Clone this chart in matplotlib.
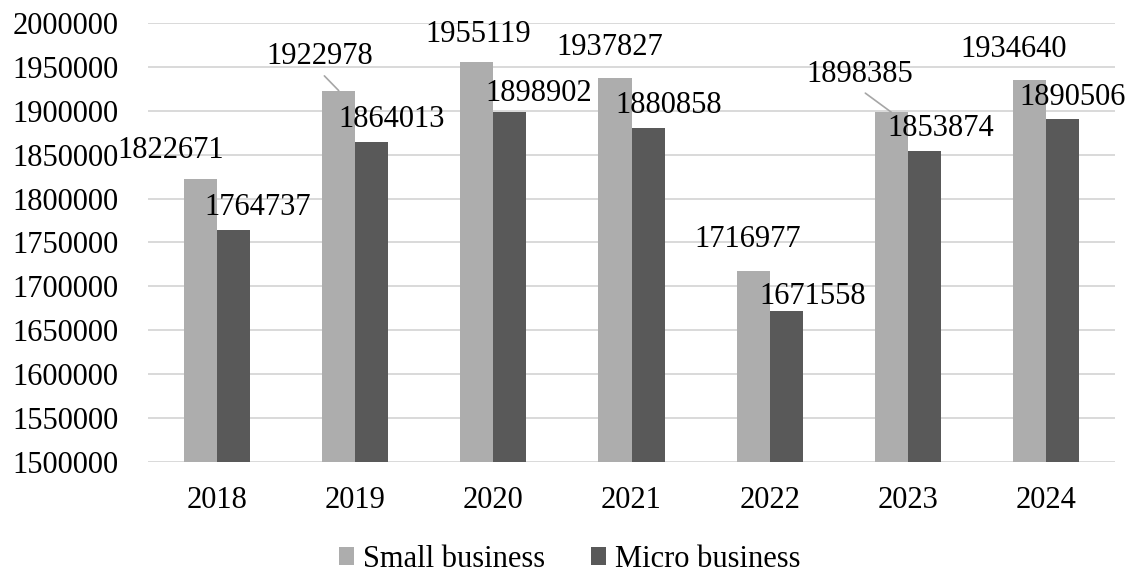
import matplotlib
matplotlib.use("Agg")
import matplotlib.pyplot as plt
import numpy as np

plt.rcParams['font.family'] = ['Liberation Serif', 'DejaVu Serif']

years = ['2018', '2019', '2020', '2021', '2022', '2023', '2024']
small_business = [1822671, 1922978, 1955119, 1937827, 1716977, 1898385, 1934640]
micro_business = [1764737, 1864013, 1898902, 1880858, 1671558, 1853874, 1890506]

# label offsets (pixels, from top centre of each bar), Excel-style placement
small_off = [(-30, 28), (-19, 34), (1, 28), (-5, 30), (-5, 32), (-32, 38), (-16, 31)]
micro_off = [(24, 22), (20, 23), (29, 18), (21, 22), (27, 15), (16, 23), (10, 22)]
leader = [False, True, False, False, False, True, False]

light = '#adadad'
dark = '#595959'
grid_c = '#d9d9d9'

fig = plt.figure(figsize=(11.35, 5.73), dpi=100)
ax = fig.add_axes([0.1304, 0.1937, 0.852, 0.7662])

x = np.arange(len(years))
w = 0.239
b1 = ax.bar(x - w / 2, small_business, w, color=light, label='Small business', zorder=2)
b2 = ax.bar(x + w / 2, micro_business, w, color=dark, label='Micro business', zorder=2)

ax.set_ylim(1500000, 2000000)
ax.set_xlim(-0.5, len(years) - 0.5)
ax.set_yticks(np.arange(1500000, 2000001, 50000))
ax.yaxis.set_major_formatter(plt.FuncFormatter(lambda v, p: f'{int(round(v))}'))
ax.set_xticks(x)
ax.set_xticklabels(years)
ax.yaxis.grid(True, color=grid_c, lw=1.4, zorder=0)
ax.set_axisbelow(True)
for s in ax.spines.values():
    s.set_visible(False)
ax.tick_params(axis='both', length=0, labelsize=22)
ax.tick_params(axis='y', pad=21)
ax.tick_params(axis='x', pad=17)

px = 72 / fig.dpi
for i in range(len(years)):
    dx, dy = small_off[i]
    kw = {}
    if leader[i]:
        kw['arrowprops'] = dict(arrowstyle='-', color='#a6a6a6', lw=1.2,
                                shrinkA=2, shrinkB=0, relpos=(0.5, 0.0))
    ax.annotate(str(small_business[i]), xy=(x[i] - w / 2, small_business[i]),
                xytext=(dx * px, dy * px), textcoords='offset points',
                ha='center', va='center', fontsize=22, **kw)
    dx, dy = micro_off[i]
    ax.annotate(str(micro_business[i]), xy=(x[i] + w / 2, micro_business[i]),
                xytext=(dx * px, dy * px), textcoords='offset points',
                ha='center', va='center', fontsize=22)

fig.legend(handles=[b1, b2], loc='center', bbox_to_anchor=(0.502, 0.024),
           ncol=2, frameon=False, fontsize=22, handlelength=0.5, handleheight=0.5,
           handletextpad=0.3, columnspacing=1.5, borderaxespad=0)

fig.savefig('out.png', dpi=100)
